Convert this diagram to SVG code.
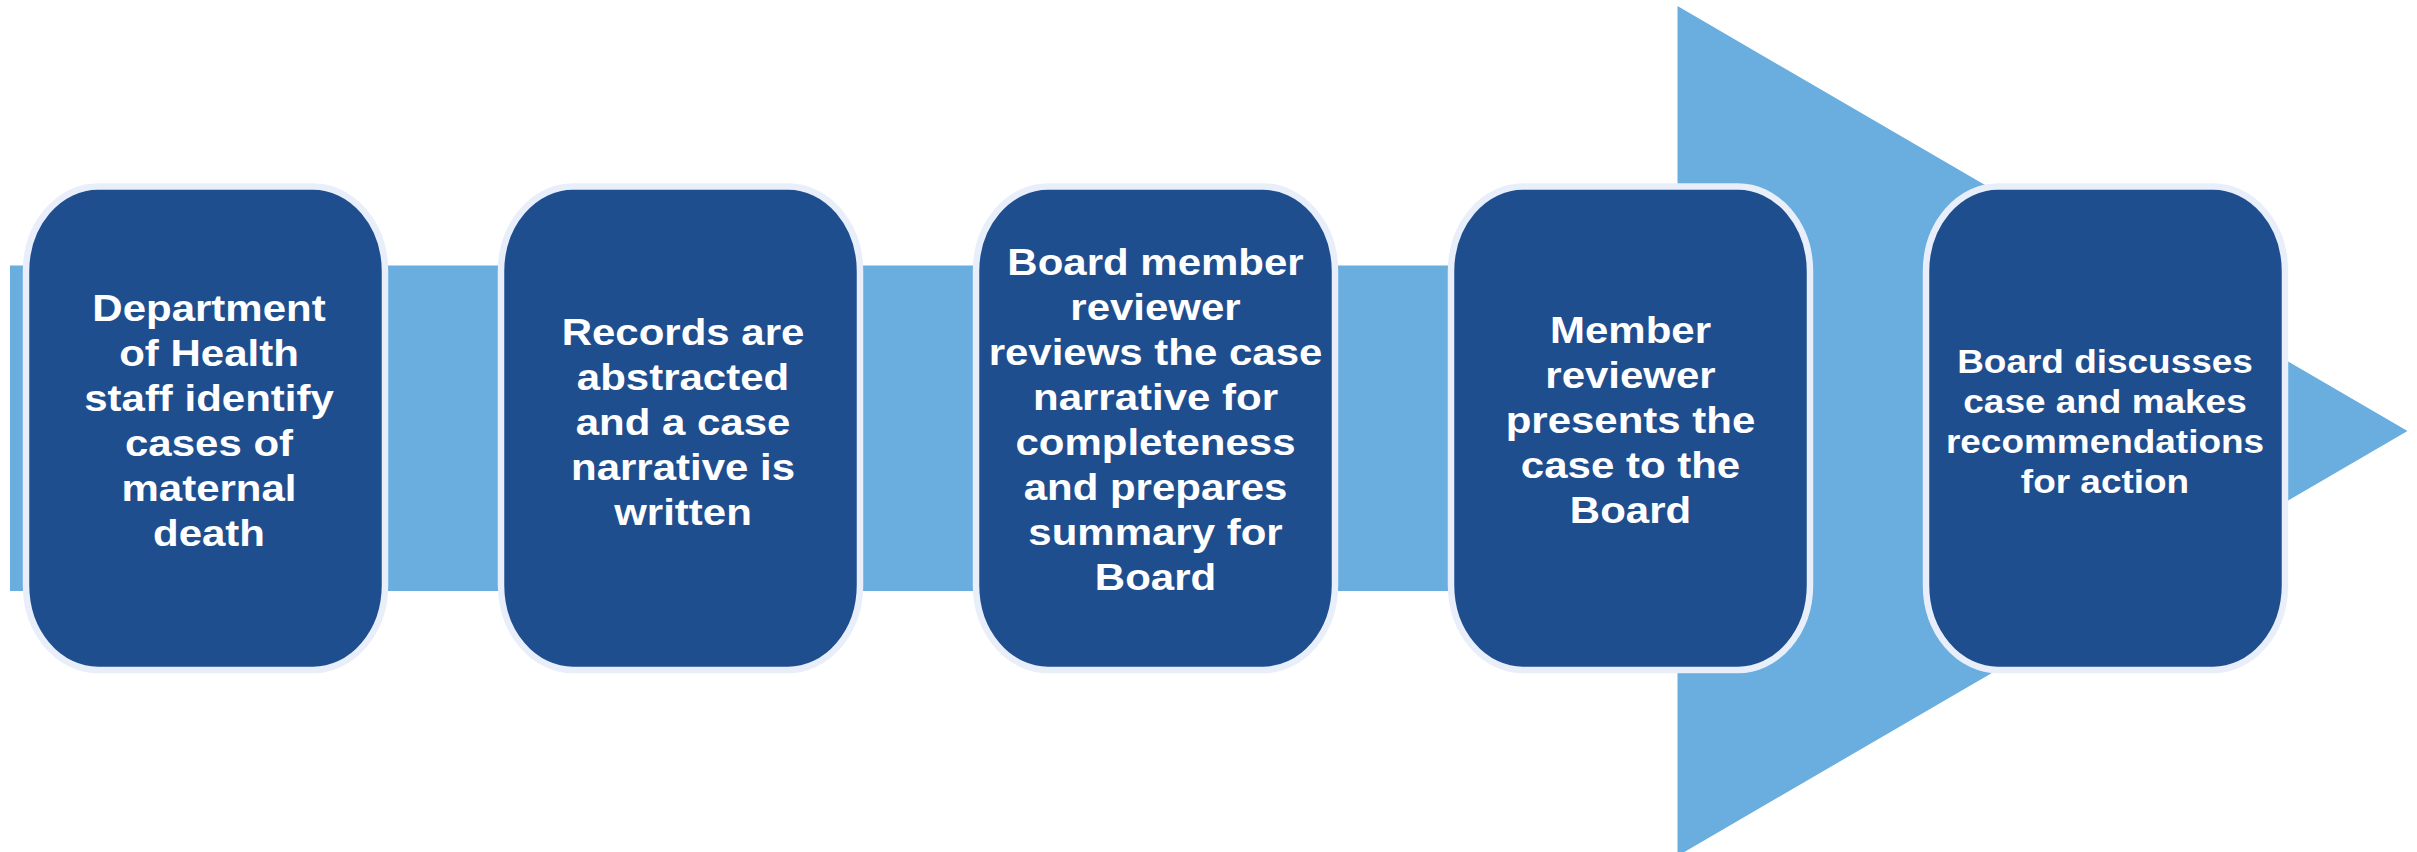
<svg xmlns="http://www.w3.org/2000/svg" width="2417" height="852" viewBox="0 0 2417 852">
  <style>
    .step { fill: #1F4E8F; stroke: #E8EEFA; stroke-width: 6.5; }
    .label { font-family: "Liberation Sans", Arial, sans-serif; font-weight: bold; fill: #FFFFFF; text-anchor: middle; }
    .big { font-size: 37.5px; }
    .small { font-size: 33px; }
  </style>

  <rect x="0" y="0" width="2417" height="852" fill="#FFFFFF"/>

  <!-- process arrow running behind the steps -->
  <g id="connectors">
    <path d="M10,265.5 H1677.5 V6 L2407.5,431 L1677.5,856 V591 H10 Z" fill="#69AEDF"/>
  </g>

  <g id="step1">
    <rect class="step" x="26" y="186.5" width="359" height="483.5" rx="72" ry="85"/>
    <g transform="translate(209,0) scale(1.12,1)">
      <text class="label big" x="0" y="321.5">Department</text>
      <text class="label big" x="0" y="366.5">of Health</text>
      <text class="label big" x="0" y="411.5">staff identify</text>
      <text class="label big" x="0" y="456.5">cases of</text>
      <text class="label big" x="0" y="501.5">maternal</text>
      <text class="label big" x="0" y="546.5">death</text>
    </g>
  </g>

  <g id="step2">
    <rect class="step" x="501" y="186.5" width="359" height="483.5" rx="72" ry="85"/>
    <g transform="translate(683,0) scale(1.12,1)">
      <text class="label big" x="0" y="345">Records are</text>
      <text class="label big" x="0" y="390">abstracted</text>
      <text class="label big" x="0" y="435">and a case</text>
      <text class="label big" x="0" y="480">narrative is</text>
      <text class="label big" x="0" y="525">written</text>
    </g>
  </g>

  <g id="step3">
    <rect class="step" x="976" y="186.5" width="359" height="483.5" rx="72" ry="85"/>
    <g transform="translate(1155.5,0) scale(1.12,1)">
      <text class="label big" x="0" y="275.5">Board member</text>
      <text class="label big" x="0" y="320.5">reviewer</text>
      <text class="label big" x="0" y="365.5">reviews the case</text>
      <text class="label big" x="0" y="410.5">narrative for</text>
      <text class="label big" x="0" y="455.5">completeness</text>
      <text class="label big" x="0" y="500.5">and prepares</text>
      <text class="label big" x="0" y="545.5">summary for</text>
      <text class="label big" x="0" y="590.5">Board</text>
    </g>
  </g>

  <g id="step4">
    <rect class="step" x="1451" y="186.5" width="359" height="483.5" rx="72" ry="85"/>
    <g transform="translate(1630.5,0) scale(1.12,1)">
      <text class="label big" x="0" y="343.5">Member</text>
      <text class="label big" x="0" y="388.5">reviewer</text>
      <text class="label big" x="0" y="433.5">presents the</text>
      <text class="label big" x="0" y="478.5">case to the</text>
      <text class="label big" x="0" y="523.5">Board</text>
    </g>
  </g>

  <g id="step5">
    <rect class="step" x="1926" y="186.5" width="359" height="483.5" rx="72" ry="85"/>
    <g transform="translate(2105,0) scale(1.12,1)">
      <text class="label small" x="0" y="373">Board discusses</text>
      <text class="label small" x="0" y="413">case and makes</text>
      <text class="label small" x="0" y="453">recommendations</text>
      <text class="label small" x="0" y="493">for action</text>
    </g>
  </g>
</svg>
